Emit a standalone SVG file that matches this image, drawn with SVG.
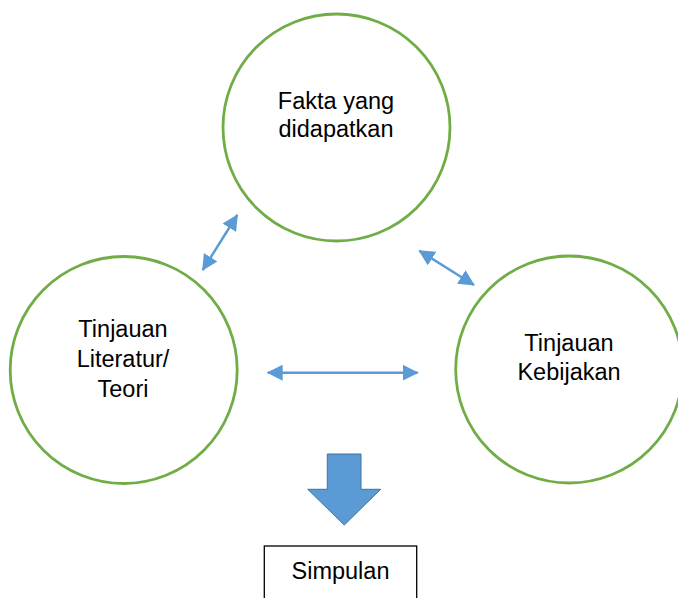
<svg xmlns="http://www.w3.org/2000/svg" width="678" height="598" viewBox="0 0 678 598">
<defs>
<style>
.node circle{fill:#fff;stroke:#70AD47;stroke-width:2.8}
.lbl{font-family:"Liberation Sans",Arial,sans-serif;font-size:23.5px;fill:#000;text-anchor:middle}
.conn line{stroke:#5B9BD5;stroke-width:2.5}
</style>
<marker id="ah" viewBox="0 0 16 16" refX="15" refY="8" markerWidth="16" markerHeight="16" markerUnits="userSpaceOnUse" orient="auto-start-reverse">
<path d="M0,0 L16,8 L0,16 Z" fill="#5B9BD5"/>
</marker>
</defs>
<rect width="678" height="598" fill="#fff"/>
<g id="node-fakta" class="node">
<circle cx="336.5" cy="127.5" r="113.5"/>
<text class="lbl" x="336" y="109">Fakta yang</text>
<text class="lbl" x="336" y="137">didapatkan</text>
</g>
<g id="node-literatur" class="node">
<circle cx="123.7" cy="370" r="113.5"/>
<text class="lbl" x="123" y="337.3">Tinjauan</text>
<text class="lbl" x="123" y="367">Literatur/</text>
<text class="lbl" x="123" y="396.7">Teori</text>
</g>
<g id="node-kebijakan" class="node">
<circle cx="569.2" cy="369.5" r="113.5"/>
<text class="lbl" x="569" y="350.7">Tinjauan</text>
<text class="lbl" x="569" y="380">Kebijakan</text>
</g>
<g id="connectors" class="conn">
<line x1="202.7" y1="270" x2="237.3" y2="215" marker-start="url(#ah)" marker-end="url(#ah)"/>
<line x1="419.3" y1="250.7" x2="474" y2="285" marker-start="url(#ah)" marker-end="url(#ah)"/>
<line x1="267.7" y1="372.7" x2="417.7" y2="372.7" marker-start="url(#ah)" marker-end="url(#ah)"/>
<path id="block-arrow" d="M327.3,454 L361,454 L361,489.3 L380.7,489.3 L344.3,525 L307.7,489.3 L327.3,489.3 Z" fill="#5B9BD5" stroke="#41719C" stroke-width="1"/>
</g>
<g id="node-simpulan">
<rect x="264.3" y="546" width="152.4" height="60" fill="#fff" stroke="#000" stroke-width="1.3"/>
<text class="lbl" x="340.5" y="579.3">Simpulan</text>
</g>
</svg>
